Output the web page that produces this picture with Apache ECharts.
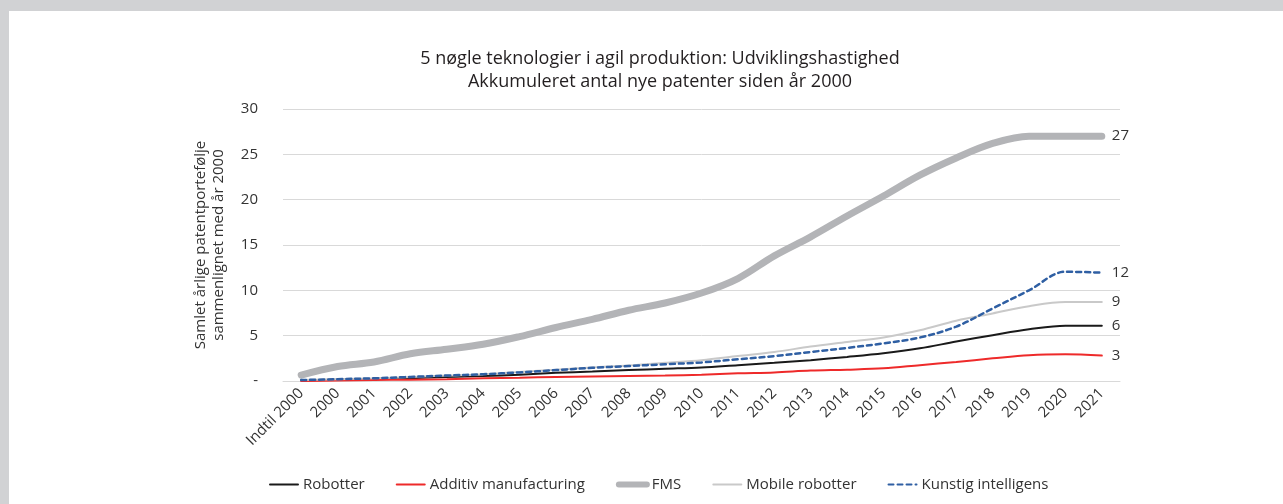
<!DOCTYPE html>
<html>
<head>
<meta charset="utf-8">
<script src="https://cdn.jsdelivr.net/npm/echarts@6/dist/echarts.min.js"></script>
<style>
  html, body { margin: 0; padding: 0; background: #d1d2d4; width: 1283px; height: 504px; overflow: hidden; }
  #chart { position: absolute; left: 9px; top: 11px; width: 1274px; height: 493px; background: #ffffff; }
</style>
</head>
<body>
<div id="chart"></div>
<script>
const categories = ['Indtil 2000','2000','2001','2002','2003','2004','2005','2006','2007','2008','2009','2010','2011','2012','2013','2014','2015','2016','2017','2018','2019','2020','2021'];
const robotter = [0.05,0.15,0.2,0.3,0.45,0.55,0.7,0.9,1.05,1.2,1.35,1.5,1.75,2.0,2.3,2.65,3.05,3.6,4.35,5.05,5.7,6.1,6.1];
const additiv = [0.0,0.05,0.1,0.15,0.2,0.3,0.35,0.45,0.5,0.55,0.6,0.7,0.85,0.95,1.15,1.25,1.4,1.75,2.1,2.5,2.85,2.95,2.8];
const fms = [0.65,1.6,2.1,3.0,3.5,4.05,4.9,5.9,6.8,7.8,8.6,9.7,11.3,13.8,15.9,18.2,20.4,22.7,24.6,26.2,27.0,27.0,27.0];
const mobile = [0.1,0.2,0.3,0.45,0.6,0.75,1.0,1.25,1.5,1.7,2.0,2.3,2.75,3.2,3.8,4.3,4.8,5.6,6.65,7.45,8.25,8.7,8.7];
const kunstig = [0.1,0.2,0.3,0.45,0.6,0.75,0.95,1.2,1.45,1.65,1.85,2.05,2.4,2.75,3.2,3.65,4.15,4.8,6.0,8.0,10.0,12.05,11.95];
const yTickLabels = ['-','5','10','15','20','25','30'];
const seriesNames = ['Robotter','Additiv manufacturing','FMS','Mobile robotter','Kunstig intelligens'];

const chart = echarts.init(document.getElementById('chart'), null, { renderer: 'canvas' });
const font = '"Open Sans", "Noto Sans", sans-serif';
function mk(name, data, color, width, type) {
  return {
    name: name, type: 'line', data: data, smooth: 0.35, symbol: 'none',
    lineStyle: { color: color, width: width, type: type || 'solid', cap: 'round' },
    itemStyle: { color: color },
    endLabel: { show: true, formatter: p => String(Math.round(p.value)), color: '#333', fontSize: 15, fontFamily: font, distance: 10 },
    emphasis: { disabled: true }
  };
}
chart.setOption({
  animation: false,
  backgroundColor: '#ffffff',
  title: {
    text: '5 nøgle teknologier i agil produktion: Udviklingshastighed\nAkkumuleret antal nye patenter siden år 2000',
    left: 646, top: 31, textAlign: 'center',
    textStyle: { fontFamily: font, fontSize: 18, fontWeight: 'normal', color: '#231f20', lineHeight: 23 }
  },
  legend: {
    orient: 'horizontal', top: 461, left: 255, itemWidth: 28, itemHeight: 14, itemGap: 31,
    itemStyle: { opacity: 0, borderWidth: 0 },
    textStyle: { fontFamily: font, fontSize: 15, color: '#333' },
    data: seriesNames.map((n, i) => i === 2 ? { name: n, lineStyle: { width: 6, cap: 'round' } } : { name: n })
  },
  grid: { left: 274, right: 163, top: 98, bottom: 123 },
  xAxis: {
    type: 'category', data: categories, boundaryGap: true,
    axisLine: { show: true, lineStyle: { color: '#d9d9d9', width: 1 } },
    axisTick: { show: false },
    axisLabel: { rotate: 45, interval: 0, fontFamily: font, fontSize: 15, color: '#333', margin: 10 }
  },
  yAxis: {
    type: 'value', min: 0, max: 30, interval: 5,
    name: 'Samlet årlige patentportefølje\nsammenlignet med år 2000',
    nameLocation: 'middle', nameGap: 55, nameRotate: 90,
    nameTextStyle: { fontFamily: font, fontSize: 15, color: '#333', lineHeight: 18 },
    axisLine: { show: false }, axisTick: { show: false },
    axisLabel: { fontFamily: font, fontSize: 15, color: '#333', margin: 25, formatter: (v) => yTickLabels[Math.round(v / 5)] },
    splitLine: { lineStyle: { color: '#d9d9d9', width: 1 } }
  },
  series: [
    mk(seriesNames[0], robotter, '#1a1a1a', 2),
    mk(seriesNames[1], additiv, '#ee2a2a', 2),
    mk(seriesNames[2], fms, '#b3b4b7', 7),
    mk(seriesNames[3], mobile, '#c9c9c9', 2),
    mk(seriesNames[4], kunstig, '#2f5fa3', 2.5, [5, 4])
  ]
});
</script>
</body>
</html>
